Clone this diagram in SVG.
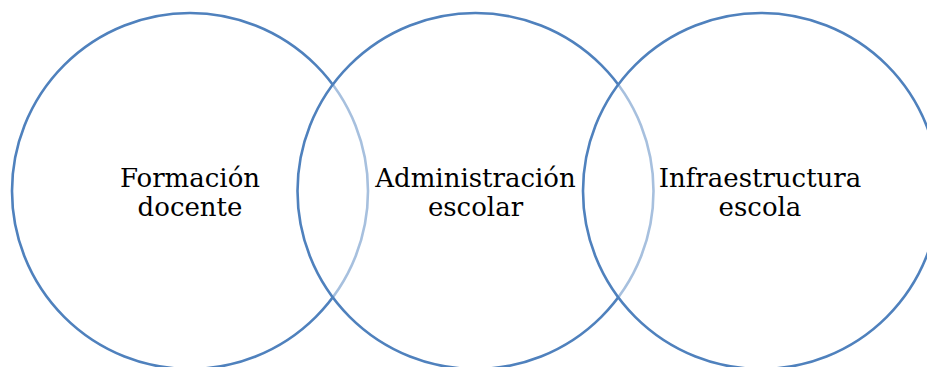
<svg xmlns="http://www.w3.org/2000/svg" width="927" height="367" viewBox="0 0 927 367">
<style>
.c{fill:#ffffff;fill-opacity:0.5;stroke:#4f81bd;stroke-width:2.6}
.t{font-family:"DejaVu Serif","Liberation Serif",serif;font-size:26px;fill:#000;text-anchor:middle}
</style>
<rect width="927" height="367" fill="#fff"/>
<g id="connectors"></g>
<g id="n1"><circle class="c" cx="190" cy="191" r="178"/></g>
<g id="n2"><circle class="c" cx="475.5" cy="191" r="178"/></g>
<g id="n3"><circle class="c" cx="761" cy="191" r="178"/></g>
<g id="labels">
<text class="t" x="190" y="187">Formación</text>
<text class="t" x="190" y="216">docente</text>
<text class="t" x="475.5" y="187">Administración</text>
<text class="t" x="475.5" y="216">escolar</text>
<text class="t" x="760" y="187">Infraestructura</text>
<text class="t" x="760" y="216">escola</text>
</g>
</svg>
